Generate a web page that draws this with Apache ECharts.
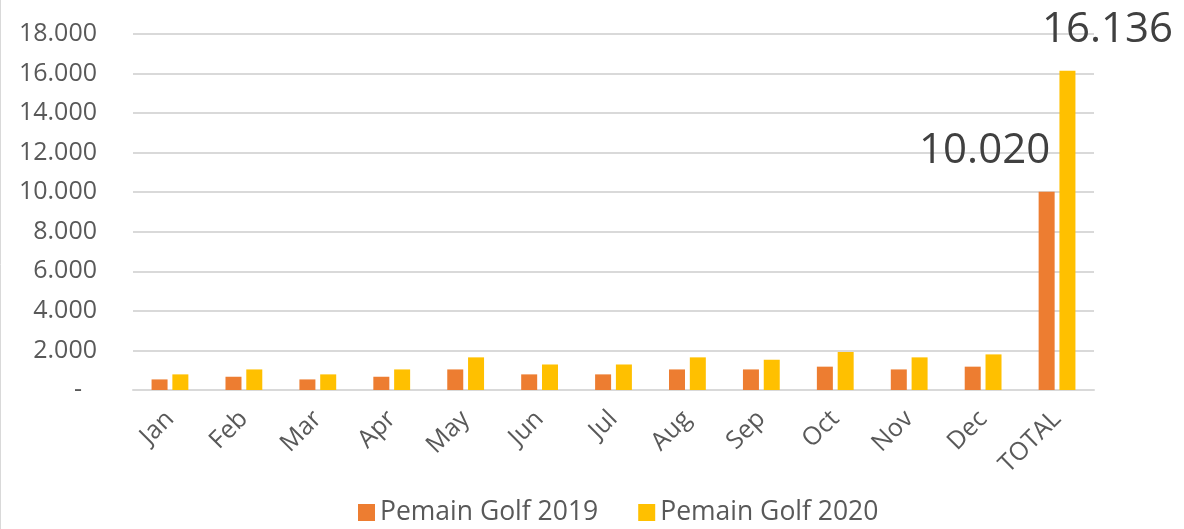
<!DOCTYPE html>
<html>
<head>
<meta charset="utf-8">
<script src="https://cdn.jsdelivr.net/npm/echarts@6/dist/echarts.min.js"></script>
<style>
  html, body { margin: 0; padding: 0; background: #fff; }
  #chart { width: 1184px; height: 529px; }
</style>
</head>
<body>
<div id="chart"></div>
<script>
const months = ["Jan","Feb","Mar","Apr","May","Jun","Jul","Aug","Sep","Oct","Nov","Dec","TOTAL"]
const golf2019 = [535, 670, 535, 670, 1040, 790, 790, 1040, 1040, 1180, 1040, 1180, 10020]
const golf2020 = [790, 1040, 790, 1040, 1650, 1290, 1290, 1650, 1530, 1920, 1650, 1800, 16136]
const seriesNames = ["Pemain Golf 2019", "Pemain Golf 2020"]

const fontName = "'Open Sans', sans-serif"

// excel style numbers: 16.136 and "-" for zero
function fmt(v){
    if (v === 0) return "{z|-}"
    return String(Math.round(v)).replace(/\B(?=(\d{3})+(?!\d))/g, ".")
}

// only the TOTAL bar gets a big label, moved off to the side like in the sheet
function buildData(values, dx){
    return values.map(function(v, i){
        if (i !== values.length - 1) return v
        return {
            value: v,
            label: {
                show: true,
                position: ["50%", 0],
                offset: [dx, -41],
                align: "center",
                verticalAlign: "middle",
                fontSize: 42,
                fontFamily: fontName,
                color: "#404040",
                formatter: function(p){ return fmt(p.value) }
            }
        }
    })
}

let chart = echarts.init(document.getElementById("chart"))

chart.setOption({
    backgroundColor: "#fff",
    animation: false,
    textStyle: { fontFamily: fontName },
    color: ["#ED7D31", "#FFC000"],
    grid: { left: 133, right: 90, top: 34, bottom: 139 },
    legend: {
        bottom: -2,
        left: 353,
        itemWidth: 17,
        itemHeight: 17,
        itemGap: 40,
        icon: "rect",
        textStyle: { fontSize: 26.5, color: "#595959", fontFamily: fontName },
        data: seriesNames
    },
    xAxis: {
        type: "category",
        data: months,
        axisLine: { lineStyle: { color: "#d9d9d9", width: 2 } },
        axisTick: { show: false },
        axisLabel: {
            rotate: 45,
            margin: 25,
            fontSize: 25,
            color: "#595959",
            interval: 0
        }
    },
    yAxis: {
        type: "value",
        min: 0,
        max: 18000,
        interval: 2000,
        axisLine: { show: false },
        axisTick: { show: false },
        splitLine: { lineStyle: { color: "#d9d9d9", width: 2 } },
        axisLabel: {
            margin: 36,
            fontSize: 25,
            color: "#595959",
            formatter: fmt,
            rich: { z: { fontSize: 25, color: "#595959", padding: [0, 15, 0, 0] } }
        }
    },
    series: [
        {
            name: seriesNames[0],
            type: "bar",
            barWidth: 16,
            barGap: "30%",
            data: buildData(golf2019, -62)
        },
        {
            name: seriesNames[1],
            type: "bar",
            barWidth: 16,
            data: buildData(golf2020, 40)
        }
    ],
    graphic: [{
        type: "line",
        shape: { x1: 0.5, y1: 0, x2: 0.5, y2: 529 },
        style: { stroke: "#d9d9d9", lineWidth: 1 }
    }]
})
</script>
</body>
</html>
